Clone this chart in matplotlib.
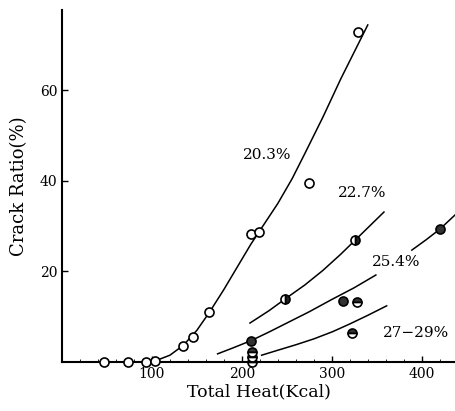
import numpy as np
import matplotlib
matplotlib.use("Agg")
import matplotlib.pyplot as plt

# measured points
open_x = [47, 73, 93, 103, 134, 146, 164, 210, 219, 275, 329]
open_y = [0, 0, 0, 0.3, 3.5, 5.5, 11, 28.3, 28.7, 39.5, 72.8]

half_x = [248, 326]            # 22.7 %
half_y = [13.9, 26.9]

dark_x = [210, 313, 420]       # 25.4 %
dark_y = [4.7, 13.5, 29.3]

hbar_x = [327.5, 323, 211, 211, 211]   # 27-29 %
hbar_y = [13.2, 6.5, 2.3, 1.2, 0.1]

# hand drawn curves
c203_x = [103, 120, 135, 150, 164, 180, 195, 210, 225, 240, 256, 270, 290, 310, 340]
c203_y = [0.2, 1.5, 3.7, 7, 11, 16, 21, 26, 30.5, 35, 40.5, 46, 54, 62.5, 74.4]

c227_x = [209, 230, 248, 270, 290, 310, 326, 342, 358]
c227_y = [8.6, 11.3, 13.9, 17, 20.2, 23.8, 26.9, 30, 33.1]

c254a_x = [173, 190, 210, 230, 250, 275, 300, 325, 349]
c254a_y = [1.8, 3.1, 4.7, 6.6, 8.6, 11.1, 13.8, 16.4, 19.2]
c254b_x = [389, 405, 420, 440]
c254b_y = [24.7, 27, 29.3, 33]

c27_x = [222, 240, 260, 280, 301, 320, 340, 361]
c27_y = [1.5, 2.6, 3.8, 5.1, 6.7, 8.4, 10.3, 12.4]

labels = ["20.3%", "22.7%", "25.4%", "27\u221229%"]
label_x = [228, 334, 372, 394]
label_y = [45.6, 37.3, 22.1, 6.4]

plt.rcParams['font.family'] = ['DejaVu Serif']

fig = plt.figure(figsize=(4.55, 4.11), dpi=100)
ax = fig.add_axes([62/455, 49/411, 1 - 62/455, 352/411])

lw = 1.1
for cx, cy in [(c203_x, c203_y), (c227_x, c227_y), (c254a_x, c254a_y),
               (c254b_x, c254b_y), (c27_x, c27_y)]:
    ax.plot(cx, cy, color='black', lw=lw, zorder=2, clip_on=False,
            solid_joinstyle='round')

ms = 6.5
ax.plot(open_x, open_y, 'o', ms=ms, mfc='white', mec='black', mew=1.2,
        zorder=3, clip_on=False)
ax.plot(half_x, half_y, 'o', ms=ms, fillstyle='right', mfc='#222222',
        mfcalt='white', mec='black', mew=1.2, zorder=3, clip_on=False)
ax.plot(dark_x, dark_y, 'o', ms=ms, mfc='#333333', mec='black', mew=1.2,
        zorder=3, clip_on=False)
ax.plot(hbar_x, hbar_y, 'o', ms=ms, fillstyle='top', mfc='#333333',
        mfcalt='white', mec='black', mew=1.2, zorder=3, clip_on=False)

for t, x, y in zip(labels, label_x, label_y):
    ax.text(x, y, t, fontsize=11, ha='center', va='center')

ax.set_xlim(0, 437)
ax.set_ylim(0, 77.7)
ax.set_xticks([100, 200, 300, 400])
ax.set_yticks([20, 40, 60])
ax.set_xticks(np.arange(0, 440, 20), minor=True)
ax.tick_params(direction='in', length=4, width=1, labelsize=10)
ax.tick_params(which='minor', direction='in', length=2, width=0.6)
ax.spines['top'].set_visible(False)
ax.spines['right'].set_visible(False)
ax.spines['left'].set_linewidth(1.5)
ax.spines['bottom'].set_linewidth(1.5)

ax.set_xlabel("Total Heat(Kcal)", fontsize=12.5, labelpad=2)
ax.set_ylabel("Crack Ratio(%)", fontsize=13, labelpad=8)

fig.savefig("out.png", dpi=100)
